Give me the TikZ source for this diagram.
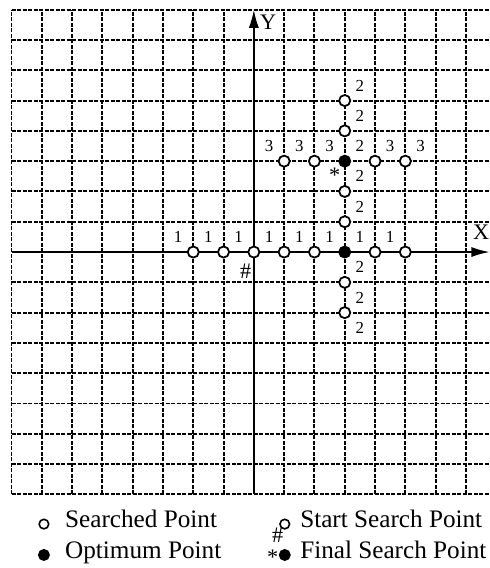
\documentclass[tikz,border=0pt]{standalone}
\usepackage{fontspec}
\setmainfont{Liberation Serif}
\usetikzlibrary{arrows.meta, positioning}

\begin{document}
\begin{tikzpicture}[
        x=0.6cm, y=0.6cm,
        gridLine/.style={
            line width=1.1pt,
            dash pattern=on 2.4pt off 0.7pt
        },
        axisLine/.style={
            -{Latex[length=3.6mm, width=2mm]},
            line width=0.9pt
        },
        searchedPoint/.style={
            circle,
            draw,
            fill=white,
            line width=1pt,
            inner sep=0pt,
            minimum size=2.2mm
        },
        optimumPoint/.style={
            searchedPoint,
            fill=black
        },
        stepLabel/.style={
            font=\fontsize{9.5}{10}\selectfont,
            inner sep=0pt
        },
        markText/.style={
            font=\fontsize{12.5}{12}\selectfont,
            inner sep=0pt
        },
        legendText/.style={
            font=\fontsize{14.2}{16}\selectfont,
            anchor=base west,
            inner sep=0pt
        }
    ]

        \useasboundingbox (-8.38,-10.43) rectangle (7.79,8.32);

        % Dashed grid
        \foreach \k in {-8,...,-1,1,2,...,8}
        {
            \draw[gridLine] (\k,-8) -- (\k,8);
            \draw[gridLine] (-8,\k) -- (8,\k);
        }

        % Axes
        \coordinate (xStart) at (-8,0);
        \coordinate (xEnd) at (7.78,0);
        \coordinate (yStart) at (0,-8);
        \coordinate (yEnd) at (0,8);

        \draw[axisLine] (xStart) -- (xEnd);
        \draw[axisLine] (yStart) -- (yEnd);

        \node[markText] (xLabel) at (7.5,0.66) {X};
        \node[markText] (yLabel) at (0.47,7.6) {Y};

        % Step 1: along X
        \foreach \x in {-2,-1,0,1,2,4,5}
        {
            \node[searchedPoint] (p1-\x) at (\x,0) {};
        }
        \node[optimumPoint] (opt1) at (3,0) {};

        \foreach \x in {-2,...,5}
        {
            \node[stepLabel] (s1-\x) at (\x-0.5,0.5) {1};
        }

        % Step 2: along Y
        \foreach \y in {-2,-1,1,2,4,5}
        {
            \node[searchedPoint] (p2-\y) at (3,\y) {};
        }
        \node[optimumPoint] (opt2) at (3,3) {};

        \foreach \y in {5.5,4.5,3.5,2.5,1.5,-0.5,-1.5,-2.5}
        {
            \node[stepLabel] at (3.5,\y) {2};
        }

        % Step 3: along X again
        \foreach \x in {1,2,4,5}
        {
            \node[searchedPoint] (p3-\x) at (\x,3) {};
        }

        \foreach \x in {0.5,1.5,2.5,4.5,5.5}
        {
            \node[stepLabel] at (\x,3.5) {3};
        }

        % Start and final marks
        \node[markText] (startMark) at (-0.27,-0.62) {\#};
        \node[markText] (finalMark) at (2.67,2.55) {*};

        % Legend
        \node[searchedPoint, minimum size=1.9mm, line width=0.9pt]
            (legSearched) at (-6.93,-8.98) {};
        \node[legendText] (txtSearched) at (-6.24,-9.08) {Searched Point};

        \node[optimumPoint, minimum size=2mm]
            (legOptimum) at (-6.93,-10.0) {};
        \node[legendText] (txtOptimum) at (-6.24,-10.1) {Optimum Point};

        \node[searchedPoint, minimum size=1.9mm, line width=0.9pt]
            (legStart) at (1.02,-8.98) {};
        \node[markText] (legHash) at (0.79,-9.36) {\#};
        \node[legendText] (txtStart) at (1.52,-9.08) {Start Search Point};

        \node[optimumPoint, minimum size=2mm]
            (legFinal) at (1.02,-10.0) {};
        \node[markText] (legStar) at (0.62,-10.06) {*};
        \node[legendText] (txtFinal) at (1.52,-10.1) {Final Search Point};

    \end{tikzpicture}
\end{document}
